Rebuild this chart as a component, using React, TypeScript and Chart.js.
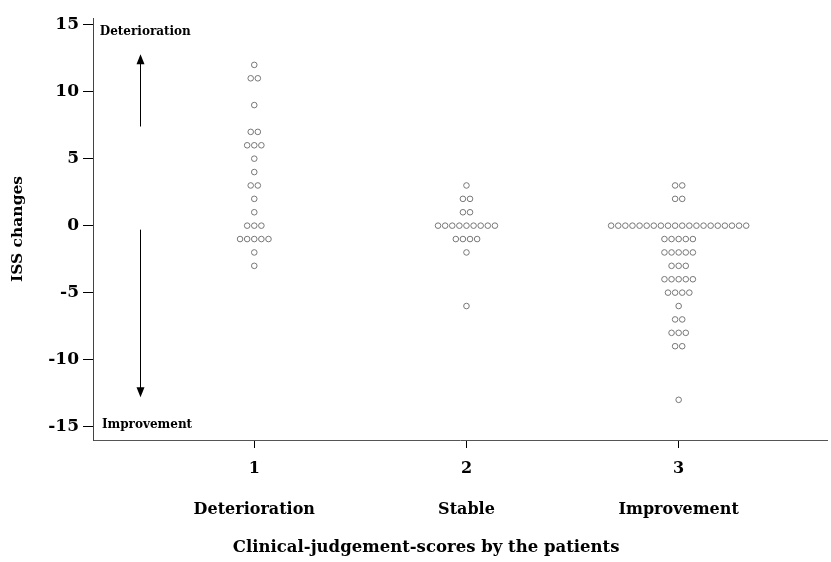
import React, { useEffect, useRef } from "react";
import { Chart, registerables } from "chart.js";

Chart.register(...registerables);

// Clinical judgement categories (x positions 1, 2, 3)
const categories = [1, 2, 3];
const categoryNumbers = ["1", "2", "3"];
const categoryNames = ["Deterioration", "Stable", "Improvement"];

// ISS change for every patient, grouped by the patient's own judgement
const deteriorationChanges = [
  12, 11, 11, 9, 7, 7, 6, 6, 6, 5, 4, 3, 3, 2, 1, 0, 0, 0,
  -1, -1, -1, -1, -1, -2, -3,
];
const stableChanges = [3, 2, 2, 1, 1, 0, 0, 0, 0, 0, 0, 0, 0, 0, -1, -1, -1, -1, -2, -6];
const improvementChanges = [
  3, 3, 2, 2,
  0, 0, 0, 0, 0, 0, 0, 0, 0, 0, 0, 0, 0, 0, 0, 0, 0, 0, 0, 0,
  -1, -1, -1, -1, -1, -2, -2, -2, -2, -2, -3, -3, -3,
  -4, -4, -4, -4, -4, -5, -5, -5, -5, -6, -7, -7, -8, -8, -8,
  -9, -9, -13,
];

const yTicks = [-15, -10, -5, 0, 5, 10, 15];
const xTitle = "Clinical-judgement-scores by the patients";

const FONT = "'DejaVu Serif', 'Liberation Serif', serif";
const DOT_STEP = 0.0335; // horizontal spacing of stacked dots, in x units

// Stack equal values side by side around the category centre
function dotPlot(center: number, values: number[]) {
  const counts = new Map<number, number>();
  values.forEach((v) => counts.set(v, (counts.get(v) || 0) + 1));
  const seen = new Map<number, number>();
  return values.map((v) => {
    const n = counts.get(v) || 1;
    const i = seen.get(v) || 0;
    seen.set(v, i + 1);
    return { x: center + (i - (n - 1) / 2) * DOT_STEP, y: v };
  });
}

const arrowX = 0.46;
const upArrow = { from: 7.4, to: 12.8 };
const downArrow = { from: -0.3, to: -12.8 };
const topNote = { x: 0.272, y: 14.5, text: "Deterioration" };
const bottomNote = { x: 0.282, y: -14.85, text: "Improvement" };

const annotations = {
  id: "directionNotes",
  afterDraw(chart: any) {
    const { ctx, scales } = chart;
    const xs = scales.x;
    const ys = scales.y;
    ctx.save();
    ctx.fillStyle = "#000";
    ctx.strokeStyle = "#000";
    ctx.font = `bold 12px ${FONT}`;
    ctx.textBaseline = "middle";
    ctx.textAlign = "left";
    ctx.fillText(topNote.text, xs.getPixelForValue(topNote.x), ys.getPixelForValue(topNote.y));
    ctx.fillText(bottomNote.text, xs.getPixelForValue(bottomNote.x), ys.getPixelForValue(bottomNote.y));

    const ax = Math.round(xs.getPixelForValue(arrowX)) + 0.5;
    const drawArrow = (from: number, to: number) => {
      const y0 = ys.getPixelForValue(from);
      const y1 = ys.getPixelForValue(to);
      const dir = y1 < y0 ? -1 : 1;
      ctx.lineWidth = 1;
      ctx.beginPath();
      ctx.moveTo(ax, y0);
      ctx.lineTo(ax, y1 - dir * 8);
      ctx.stroke();
      ctx.beginPath();
      ctx.moveTo(ax, y1);
      ctx.lineTo(ax - 4, y1 - dir * 10);
      ctx.lineTo(ax + 4, y1 - dir * 10);
      ctx.closePath();
      ctx.fill();
    };
    drawArrow(upArrow.from, upArrow.to);
    drawArrow(downArrow.from, downArrow.to);

    // x-axis title, set a little left of the axis centre
    ctx.font = `bold 16.5px ${FONT}`;
    ctx.textAlign = "center";
    ctx.fillText(xTitle, xs.getPixelForValue(1.81), chart.height - 14);
    ctx.restore();
  },
};

export default function App() {
  const canvasRef = useRef<HTMLCanvasElement | null>(null);

  useEffect(() => {
    if (!canvasRef.current) return;
    const points = [
      ...dotPlot(categories[0], deteriorationChanges),
      ...dotPlot(categories[1], stableChanges),
      ...dotPlot(categories[2], improvementChanges),
    ];
    const chart = new Chart(canvasRef.current, {
      type: "scatter",
      data: {
        datasets: [
          {
            data: points,
            pointRadius: 2.8,
            pointBorderWidth: 1,
            borderColor: "#777",
            backgroundColor: "#fff",
            pointHoverRadius: 2.8,
          },
        ],
      },
      options: {
        animation: false,
        responsive: true,
        maintainAspectRatio: false,
        layout: { padding: { top: 18, right: 0, left: 0, bottom: 0 } },
        plugins: { legend: { display: false }, tooltip: { enabled: false } },
        scales: {
          x: {
            type: "linear",
            min: 0.24,
            max: 3.7,
            afterBuildTicks(scale: any) {
              scale.ticks = categories.map((v) => ({ value: v }));
            },
            afterFit(scale: any) {
              scale.height = 122;
            },
            ticks: {
              color: "#000",
              padding: 10,
              font: { family: FONT, size: 16, weight: "bold", lineHeight: 1.3 },
              callback: (v: any) => {
                const i = categories.indexOf(Number(v));
                return i < 0 ? "" : [categoryNumbers[i], "", categoryNames[i]];
              },
            },
            grid: { drawOnChartArea: false, drawTicks: true, tickLength: 8, color: "#000" },
            border: { display: true, color: "#555", width: 1 },
          },
          y: {
            min: -16,
            max: 15.5,
            afterBuildTicks(scale: any) {
              scale.ticks = yTicks.map((v) => ({ value: v }));
            },
            afterFit(scale: any) {
              scale.width = 93;
            },
            ticks: {
              color: "#000",
              padding: 4,
              font: { family: FONT, size: 17, weight: "bold" },
            },
            grid: { drawOnChartArea: false, drawTicks: true, tickLength: 10, color: "#000" },
            border: { display: true, color: "#444", width: 1 },
            title: {
              display: true,
              text: "ISS changes",
              color: "#000",
              padding: { top: 9, bottom: 0 },
              font: { family: FONT, size: 15.5, weight: "bold" },
            },
          },
        },
      },
      plugins: [annotations],
    });
    return () => chart.destroy();
  }, []);

  return (
    <div style={{ position: "absolute", left: 0, top: 0, width: 831, height: 562, background: "#fff" }}>
      <canvas ref={canvasRef} />
    </div>
  );
}
